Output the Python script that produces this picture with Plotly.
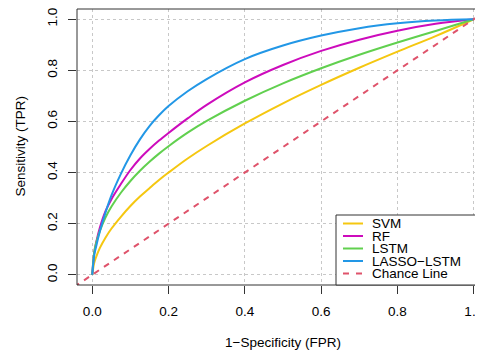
import plotly.graph_objects as go

# False positive rates at which the curves were read
fpr = [0.0, 0.005, 0.01, 0.02, 0.035, 0.05, 0.075, 0.1, 0.125, 0.15, 0.175, 0.2,
       0.25, 0.3, 0.4, 0.5, 0.6, 0.7, 0.8, 0.9, 1.0]

svm_tpr = [0.0, 0.046, 0.069, 0.105, 0.146, 0.180, 0.227, 0.269, 0.306, 0.339, 0.371, 0.400,
           0.455, 0.504, 0.592, 0.671, 0.743, 0.810, 0.873, 0.934, 1.0]
rf_tpr = [0.0, 0.085, 0.125, 0.185, 0.250, 0.295, 0.355, 0.410, 0.455, 0.492, 0.525, 0.555,
          0.612, 0.665, 0.753, 0.821, 0.876, 0.920, 0.955, 0.982, 1.0]
lstm_tpr = [0.0, 0.087, 0.123, 0.172, 0.225, 0.266, 0.321, 0.367, 0.407, 0.442, 0.474, 0.503,
            0.556, 0.602, 0.681, 0.749, 0.808, 0.861, 0.909, 0.954, 1.0]
lasso_lstm_tpr = [0.0, 0.075, 0.110, 0.170, 0.245, 0.310, 0.395, 0.468, 0.530, 0.582, 0.624, 0.660,
                  0.718, 0.766, 0.844, 0.897, 0.936, 0.965, 0.984, 0.995, 1.0]

chance_x = [-0.1, 1.1]
chance_y = [-0.1, 1.1]

series_names = ["SVM", "RF", "LSTM", "LASSO−LSTM"]
series_values = [svm_tpr, rf_tpr, lstm_tpr, lasso_lstm_tpr]
series_colors = ["#F5C710", "#CD0BBC", "#61D04F", "#2297E6"]
chance_name = "Chance Line"
chance_color = "#DF536B"

tick_vals = [0.0, 0.2, 0.4, 0.6, 0.8, 1.0]
tick_text = ["0.0", "0.2", "0.4", "0.6", "0.8", "1.0"]

# The page body has an 8px margin, so the figure starts at viewport (8, 8).
OFF = 8
W, H = 475, 345
ML = 77 - OFF
MT = 8 - OFF + 1
PLOT_BOTTOM = 285 - OFF
MB = H - PLOT_BOTTOM
plot_w = W - ML
plot_h = H - MT - MB
PX_PER_X = 381.5
X_MAX = -0.04 + plot_w / PX_PER_X

FONT = "Liberation Sans, Arial, Helvetica, sans-serif"

fig = go.Figure()
for name, vals, col in zip(series_names, series_values, series_colors):
    fig.add_trace(go.Scatter(x=fpr, y=vals, mode="lines", name=name,
                             line=dict(color=col, width=2, shape="spline", smoothing=1.0),
                             showlegend=False, hoverinfo="skip"))
fig.add_trace(go.Scatter(x=chance_x, y=chance_y, mode="lines", name=chance_name,
                         line=dict(color=chance_color, width=2, dash="6px,6px"),
                         showlegend=False, hoverinfo="skip"))


def px_to_paper_x(px):
    # px given in viewport pixels
    return (px - OFF - ML) / plot_w


def py_to_paper_y(py):
    return (PLOT_BOTTOM - (py - OFF)) / plot_h


shapes = []
# frame (right side falls outside the page, as in the reference)
shapes.append(dict(type="rect", xref="paper", yref="paper", x0=0, x1=1.05, y0=0, y1=1,
                   line=dict(color="#333333", width=1), layer="above"))
# legend box
lx0 = px_to_paper_x(336)
ly1 = py_to_paper_y(215)
shapes.append(dict(type="rect", xref="paper", yref="paper", x0=lx0, x1=1.05, y0=0, y1=ly1,
                   line=dict(color="#333333", width=1), fillcolor="white", layer="above"))

annotations = []
leg_names = series_names + [chance_name]
leg_colors = series_colors + [chance_color]
row_py = [223.5, 236, 248.5, 261, 273.5]
for i, (nm, col) in enumerate(zip(leg_names, leg_colors)):
    yy = py_to_paper_y(row_py[i])
    shapes.append(dict(type="line", xref="paper", yref="paper",
                       x0=px_to_paper_x(343), x1=px_to_paper_x(363), y0=yy, y1=yy,
                       line=dict(color=col, width=2, dash="6px,7px" if nm == chance_name else "solid"),
                       layer="above"))
    annotations.append(dict(xref="paper", yref="paper", x=px_to_paper_x(370), y=yy,
                            text=nm, showarrow=False, xanchor="left", yanchor="middle",
                            font=dict(family=FONT, size=13.5, color="black")))

annotations.append(dict(xref="paper", yref="paper", x=px_to_paper_x(283), y=py_to_paper_y(342.5),
                        text="1−Specificity (FPR)", showarrow=False, xanchor="center",
                        yanchor="middle", font=dict(family=FONT, size=13.5, color="black")))
annotations.append(dict(xref="paper", yref="paper", x=px_to_paper_x(20), y=py_to_paper_y(146.5),
                        text="Sensitivity (TPR)", showarrow=False, textangle=-90,
                        xanchor="center", yanchor="middle",
                        font=dict(family=FONT, size=13.5, color="black")))

axis_common = dict(
    tickmode="array", tickvals=tick_vals, ticktext=tick_text,
    ticks="outside", ticklen=8, tickwidth=1, tickcolor="#333333",
    showgrid=True, gridcolor="#c8c8c8", griddash="dot", gridwidth=1,
    zeroline=False, showline=False, ticklabeloverflow="allow",
    tickfont=dict(family=FONT, size=13.5, color="black"),
)

fig.update_layout(
    width=W, height=H,
    margin=dict(l=ML, r=0, t=MT, b=MB, autoexpand=False),
    paper_bgcolor="white", plot_bgcolor="white",
    xaxis=dict(range=[-0.04, X_MAX], ticklabelstandoff=6, **axis_common),
    yaxis=dict(range=[-0.04, 1.04], tickangle=-90, ticklabelstandoff=6, **axis_common),
    shapes=shapes, annotations=annotations, showlegend=False,
)

fig.write_html("out.html")
